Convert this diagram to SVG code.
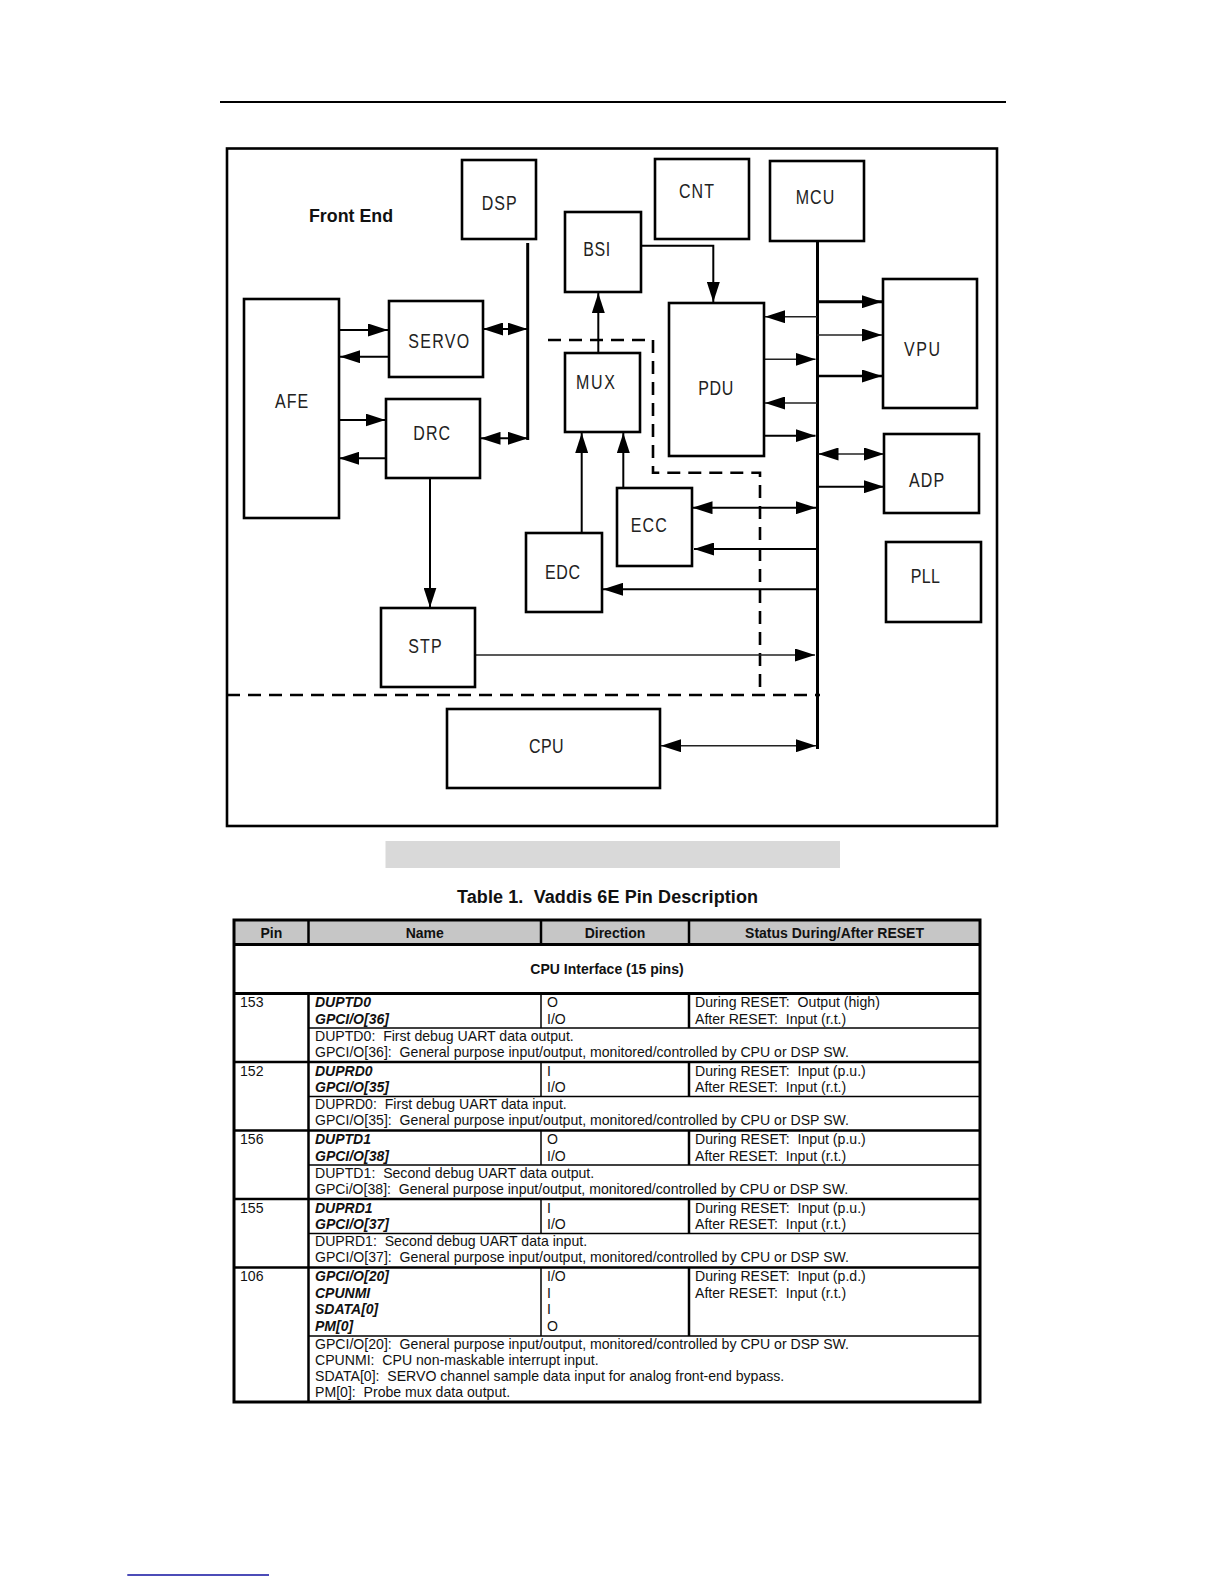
<svg xmlns="http://www.w3.org/2000/svg" width="1224" height="1584" viewBox="0 0 1224 1584">
<style>
.box{fill:#fff;stroke:#000;stroke-width:2.6}
.lbl{font-family:"Liberation Sans",Arial,sans-serif;font-size:19.5px;fill:#222}
.fe{font-family:"Liberation Sans",Arial,sans-serif;font-size:18.5px;font-weight:bold;fill:#111}
.c{fill:none;stroke:#000;stroke-width:2}
.thin{fill:none;stroke:#222;stroke-width:1.4}
.dash{fill:none;stroke:#000;stroke-width:2.6;stroke-dasharray:13 8}
.a1{marker-end:url(#ah)}
.a2{marker-start:url(#ah);marker-end:url(#ah)}
.t{font-family:"Liberation Sans",Arial,sans-serif;font-size:14.1px;fill:#111}
.tb{font-family:"Liberation Sans",Arial,sans-serif;font-size:14px;font-weight:bold;fill:#111}
.ti{font-family:"Liberation Sans",Arial,sans-serif;font-size:14px;font-weight:bold;font-style:italic;fill:#111}
.L3{stroke:#000;stroke-width:3}
.L25{stroke:#000;stroke-width:2.5}
.L15{stroke:#000;stroke-width:1.5}
</style>
<defs>
<marker id="ah" viewBox="0 0 20 13" refX="20" refY="6.5" markerWidth="20" markerHeight="13" markerUnits="userSpaceOnUse" orient="auto-start-reverse"><path d="M0,0 L20,6.5 L0,13 z" fill="#000"/></marker>
</defs>
<rect width="1224" height="1584" fill="#fff"/>
<line x1="220" y1="102" x2="1006" y2="102" stroke="#000" stroke-width="2.2"/>
<rect x="227" y="148.5" width="770" height="677.5" fill="none" stroke="#000" stroke-width="2.6"/>
<text class="fe" x="309" y="221.7" textLength="84" lengthAdjust="spacingAndGlyphs">Front End</text>

<g id="dashed">
<path class="dash" d="M548,340 H653 V472.7 H760 V695"/>
<path class="dash" d="M227,695 H820"/>
</g>

<g id="connectors">
<line x1="817.5" y1="240.7" x2="817.5" y2="749" stroke="#000" stroke-width="3"/>
<line x1="527.7" y1="243" x2="527.7" y2="440" stroke="#000" stroke-width="3"/>
<path class="c a1" d="M339,330 H388"/>
<path class="c a1" d="M389,356.7 H340"/>
<path class="c a2" d="M483,329 H527.5"/>
<path class="c a1" d="M339,420 H385.5"/>
<path class="c a1" d="M386,458.3 H339"/>
<path class="c a2" d="M480.5,438.3 H528"/>
<path class="c a1" d="M430,478 V607.5"/>
<path class="thin a1" d="M475,655 H815"/>
<path class="c a1" d="M598.3,353 V293"/>
<path class="c a1" d="M581.7,532.7 V433"/>
<path class="c a1" d="M623.3,487.7 V433"/>
<path class="c a1" d="M641,245.7 H713.3 V302"/>
<path class="c a1" d="M817,301.7 H882" style="stroke-width:3"/>
<path class="thin a1" d="M817,335 H882"/>
<path class="c a1" d="M817,376 H882" style="stroke-width:2.6"/>
<path class="thin a1" d="M817,316.7 H765"/>
<path class="thin a1" d="M764,359.3 H815.5"/>
<path class="thin a1" d="M817,403 H765"/>
<path class="c a1" d="M764,435.7 H815.5"/>
<path class="thin a2" d="M818.5,454 H884"/>
<path class="c a1" d="M817,486.7 H884"/>
<path class="c a2" d="M692.5,507.7 H816"/>
<path class="c a1" d="M819,549 H694"/>
<path class="c a1" d="M817,589.3 H603"/>
<path class="thin a2" d="M661,745.7 H816"/>
</g>

<g id="DSP"><rect class="box" x="462" y="160" width="74" height="79"/><text class="lbl" transform="translate(481.7,210) scale(0.82,1)" textLength="42.7">DSP</text></g>
<g id="CNT"><rect class="box" x="655" y="159" width="94" height="80"/><text class="lbl" transform="translate(679,198.3) scale(0.82,1)" textLength="42.7">CNT</text></g>
<g id="MCU"><rect class="box" x="770" y="161" width="94" height="80"/><text class="lbl" transform="translate(795.7,204.3) scale(0.82,1)" textLength="47.1">MCU</text></g>
<g id="BSI"><rect class="box" x="565" y="212" width="76" height="80"/><text class="lbl" transform="translate(583.3,255.7) scale(0.82,1)" textLength="32.9">BSI</text></g>
<g id="SERVO"><rect class="box" x="389" y="301" width="94" height="76"/><text class="lbl" transform="translate(408.3,348.3) scale(0.82,1)" textLength="74.4">SERVO</text></g>
<g id="AFE"><rect class="box" x="244" y="299" width="95" height="219"/><text class="lbl" transform="translate(275,408.3) scale(0.82,1)" textLength="40.6">AFE</text></g>
<g id="MUX"><rect class="box" x="565" y="353" width="75" height="79"/><text class="lbl" transform="translate(576,389.3) scale(0.82,1)" textLength="47.6">MUX</text></g>
<g id="PDU"><rect class="box" x="669" y="303" width="95" height="153"/><text class="lbl" transform="translate(698.3,395) scale(0.82,1)" textLength="42.7">PDU</text></g>
<g id="VPU"><rect class="box" x="883" y="279" width="94" height="129"/><text class="lbl" transform="translate(904,356) scale(0.82,1)" textLength="43.9">VPU</text></g>
<g id="DRC"><rect class="box" x="386" y="399" width="94" height="79"/><text class="lbl" transform="translate(413.3,440) scale(0.82,1)" textLength="44.8">DRC</text></g>
<g id="ADP"><rect class="box" x="884" y="434" width="95" height="79"/><text class="lbl" transform="translate(909,486.7) scale(0.82,1)" textLength="43">ADP</text></g>
<g id="ECC"><rect class="box" x="617" y="488" width="75" height="78"/><text class="lbl" transform="translate(630.7,531.7) scale(0.82,1)" textLength="43.9">ECC</text></g>
<g id="EDC"><rect class="box" x="526" y="533" width="76" height="79"/><text class="lbl" transform="translate(545,579) scale(0.82,1)" textLength="42.7">EDC</text></g>
<g id="PLL"><rect class="box" x="886" y="542" width="95" height="80"/><text class="lbl" transform="translate(910.7,582.7) scale(0.82,1)" textLength="35.7">PLL</text></g>
<g id="STP"><rect class="box" x="381" y="608" width="94" height="79"/><text class="lbl" transform="translate(408.3,653.3) scale(0.82,1)" textLength="40.6">STP</text></g>
<g id="CPU"><rect class="box" x="447" y="709" width="213" height="79"/><text class="lbl" transform="translate(529,753.3) scale(0.82,1)" textLength="42.1">CPU</text></g>

<rect x="385.5" y="841" width="454.5" height="27" fill="#d9d9d9"/>
<text xml:space="preserve" x="457" y="902.5" font-family="Liberation Sans, Arial, sans-serif" font-size="18" font-weight="bold" fill="#111" textLength="301">Table 1.  Vaddis 6E Pin Description</text>

<g id="table">
<rect x="234" y="920" width="746" height="24.5" fill="#c6c6c6"/>
<g fill="none">
<line class="L3" x1="234" y1="944.5" x2="980" y2="944.5"/>
<line class="L25" x1="308.5" y1="920" x2="308.5" y2="944.5"/>
<line class="L25" x1="541" y1="920" x2="541" y2="944.5"/>
<line class="L25" x1="689" y1="920" x2="689" y2="944.5"/>
<line class="L3" x1="234" y1="993.5" x2="980" y2="993.5"/>
<line class="L25" x1="308.5" y1="993.5" x2="308.5" y2="1402"/>
<line class="L15" x1="308.5" y1="1028" x2="980" y2="1028"/>
<line class="L15" x1="541" y1="993.5" x2="541" y2="1028"/>
<line class="L25" x1="689" y1="993.5" x2="689" y2="1028"/>
<line class="L25" x1="234" y1="1062" x2="980" y2="1062"/>
<line class="L15" x1="308.5" y1="1096.5" x2="980" y2="1096.5"/>
<line class="L15" x1="541" y1="1062" x2="541" y2="1096.5"/>
<line class="L25" x1="689" y1="1062" x2="689" y2="1096.5"/>
<line class="L25" x1="234" y1="1130.5" x2="980" y2="1130.5"/>
<line class="L15" x1="308.5" y1="1165" x2="980" y2="1165"/>
<line class="L15" x1="541" y1="1130.5" x2="541" y2="1165"/>
<line class="L25" x1="689" y1="1130.5" x2="689" y2="1165"/>
<line class="L25" x1="234" y1="1199" x2="980" y2="1199"/>
<line class="L15" x1="308.5" y1="1233.5" x2="980" y2="1233.5"/>
<line class="L15" x1="541" y1="1199" x2="541" y2="1233.5"/>
<line class="L25" x1="689" y1="1199" x2="689" y2="1233.5"/>
<line class="L25" x1="234" y1="1267.5" x2="980" y2="1267.5"/>
<line class="L15" x1="308.5" y1="1336" x2="980" y2="1336"/>
<line class="L15" x1="541" y1="1267.5" x2="541" y2="1336"/>
<line class="L25" x1="689" y1="1267.5" x2="689" y2="1336"/>
<rect class="L3" x="234" y="920" width="746" height="482"/>
</g>
<g class="tb" text-anchor="middle">
<text x="271.3" y="937.5">Pin</text>
<text x="424.8" y="937.5">Name</text>
<text x="615" y="937.5">Direction</text>
<text x="834.5" y="937.5">Status During/After RESET</text>
<text x="607" y="974">CPU Interface (15 pins)</text>
</g>
<g class="t">
<text x="240" y="1007">153</text>
<text x="547" y="1007">O</text><text x="547" y="1023.5">I/O</text>
<text xml:space="preserve" x="695" y="1007">During RESET:  Output (high)</text><text xml:space="preserve" x="695" y="1023.5">After RESET:  Input (r.t.)</text>
<text xml:space="preserve" x="315" y="1040.5">DUPTD0:  First debug UART data output.</text>
<text xml:space="preserve" x="315" y="1056.8">GPCI/O[36]:  General purpose input/output, monitored/controlled by CPU or DSP SW.</text>

<text x="240" y="1075.5">152</text>
<text x="547" y="1075.5">I</text><text x="547" y="1092">I/O</text>
<text xml:space="preserve" x="695" y="1075.5">During RESET:  Input (p.u.)</text><text xml:space="preserve" x="695" y="1092">After RESET:  Input (r.t.)</text>
<text xml:space="preserve" x="315" y="1109">DUPRD0:  First debug UART data input.</text>
<text xml:space="preserve" x="315" y="1125.3">GPCI/O[35]:  General purpose input/output, monitored/controlled by CPU or DSP SW.</text>

<text x="240" y="1144">156</text>
<text x="547" y="1144">O</text><text x="547" y="1160.5">I/O</text>
<text xml:space="preserve" x="695" y="1144">During RESET:  Input (p.u.)</text><text xml:space="preserve" x="695" y="1160.5">After RESET:  Input (r.t.)</text>
<text xml:space="preserve" x="315" y="1177.5">DUPTD1:  Second debug UART data output.</text>
<text xml:space="preserve" x="315" y="1193.8">GPCi/O[38]:  General purpose input/output, monitored/controlled by CPU or DSP SW.</text>

<text x="240" y="1212.5">155</text>
<text x="547" y="1212.5">I</text><text x="547" y="1229">I/O</text>
<text xml:space="preserve" x="695" y="1212.5">During RESET:  Input (p.u.)</text><text xml:space="preserve" x="695" y="1229">After RESET:  Input (r.t.)</text>
<text xml:space="preserve" x="315" y="1246">DUPRD1:  Second debug UART data input.</text>
<text xml:space="preserve" x="315" y="1262.3">GPCI/O[37]:  General purpose input/output, monitored/controlled by CPU or DSP SW.</text>

<text x="240" y="1281">106</text>
<text x="547" y="1281">I/O</text><text x="547" y="1297.5">I</text><text x="547" y="1314">I</text><text x="547" y="1330.5">O</text>
<text xml:space="preserve" x="695" y="1281">During RESET:  Input (p.d.)</text><text xml:space="preserve" x="695" y="1297.5">After RESET:  Input (r.t.)</text>
<text xml:space="preserve" x="315" y="1348.5">GPCI/O[20]:  General purpose input/output, monitored/controlled by CPU or DSP SW.</text>
<text xml:space="preserve" x="315" y="1364.8">CPUNMI:  CPU non-maskable interrupt input.</text>
<text xml:space="preserve" x="315" y="1381.1">SDATA[0]:  SERVO channel sample data input for analog front-end bypass.</text>
<text xml:space="preserve" x="315" y="1397.4">PM[0]:  Probe mux data output.</text>
</g>
<g class="ti">
<text x="315" y="1007">DUPTD0</text><text x="315" y="1023.5">GPCI/O[36]</text>
<text x="315" y="1075.5">DUPRD0</text><text x="315" y="1092">GPCI/O[35]</text>
<text x="315" y="1144">DUPTD1</text><text x="315" y="1160.5">GPCI/O[38]</text>
<text x="315" y="1212.5">DUPRD1</text><text x="315" y="1229">GPCI/O[37]</text>
<text x="315" y="1281">GPCI/O[20]</text><text x="315" y="1297.5">CPUNMI</text><text x="315" y="1314">SDATA[0]</text><text x="315" y="1330.5">PM[0]</text>
</g>
</g>
<line x1="127.3" y1="1575" x2="269" y2="1575" stroke="#1010a0" stroke-width="1.6"/>
</svg>
